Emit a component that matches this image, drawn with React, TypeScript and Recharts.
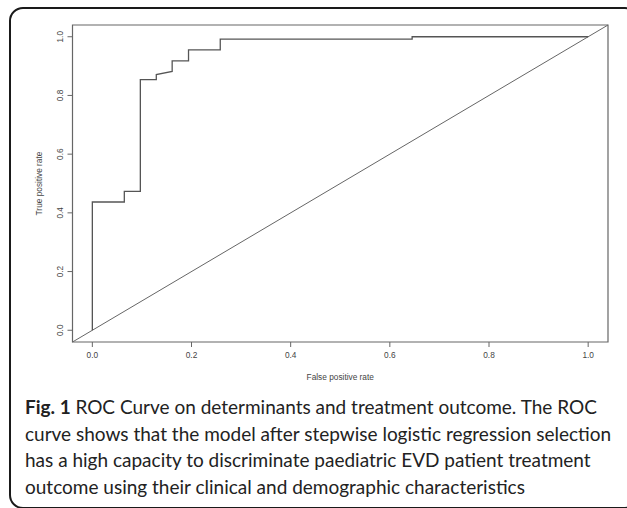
import React from 'react';
import { LineChart, Line, XAxis, YAxis, ReferenceArea, ReferenceLine } from 'recharts';

// ROC curve points (false positive rate, true positive rate)
const fprValues = [0, 0, 0.0645, 0.0645, 0.0968, 0.0968, 0.129, 0.129, 0.161, 0.161, 0.194, 0.194, 0.258, 0.258, 0.645, 0.645, 1.0];
const tprValues = [0, 0.437, 0.437, 0.473, 0.473, 0.854, 0.854, 0.871, 0.882, 0.918, 0.918, 0.955, 0.955, 0.992, 0.992, 1.0, 1.0];

const xTicks = [0, 0.2, 0.4, 0.6, 0.8, 1.0];
const yTicks = [0, 0.2, 0.4, 0.6, 0.8, 1.0];
const axisDomain = [-0.04, 1.04];

const captionLines = [
  'ROC Curve on determinants and treatment outcome. The ROC',
  'curve shows that the model after stepwise logistic regression selection',
  'has a high capacity to discriminate paediatric EVD patient treatment',
  'outcome using their clinical and demographic characteristics',
];

const rocData = fprValues.map((fpr, i) => ({ fpr, tpr: tprValues[i] }));

const AXIS_FONT = '"Liberation Sans", Arial, sans-serif';
const AXIS_SIZE = 8.3;
const AXIS_COLOR = '#444';

const XTick = ({ x, y, payload }: any) => (
  <text x={x} y={y} dy={9} textAnchor="middle" fontSize={AXIS_SIZE} fontFamily={AXIS_FONT} fill={AXIS_COLOR}>
    {Number(payload.value).toFixed(1)}
  </text>
);

const YTick = ({ x, y, payload }: any) => (
  <text
    transform={`translate(${x - 3},${y}) rotate(-90)`}
    textAnchor="middle"
    fontSize={AXIS_SIZE}
    fontFamily={AXIS_FONT}
    fill={AXIS_COLOR}
  >
    {Number(payload.value).toFixed(1)}
  </text>
);

export default function App() {
  return (
    <div style={{ position: 'absolute', left: 0, top: 0, width: 627, height: 508, overflow: 'hidden', background: '#fff' }}>
      <div
        style={{
          position: 'absolute',
          left: 9,
          top: 7,
          width: 626,
          height: 498,
          border: '2px solid #1a1a1a',
          borderRadius: 14,
        }}
      />
      <div style={{ position: 'absolute', left: 0, top: 0 }}>
        <LineChart width={627} height={400} margin={{ top: 25, right: 19, left: 0, bottom: 0 }}>
          <XAxis
            type="number"
            dataKey="fpr"
            domain={axisDomain}
            allowDataOverflow
            ticks={xTicks}
            tick={<XTick />}
            tickSize={5}
            tickLine={{ stroke: '#666' }}
            axisLine={false}
            height={58}
            label={{
              value: 'False positive rate',
              content: ({ viewBox }: any) => (
                <text
                  x={viewBox.x + viewBox.width / 2}
                  y={viewBox.y + 38}
                  textAnchor="middle"
                  fontSize={AXIS_SIZE}
                  fontFamily={AXIS_FONT}
                  fill={AXIS_COLOR}
                >
                  False positive rate
                </text>
              ),
            }}
          />
          <YAxis
            type="number"
            dataKey="tpr"
            domain={axisDomain}
            allowDataOverflow
            ticks={yTicks}
            tick={<YTick />}
            tickSize={5}
            tickLine={{ stroke: '#666' }}
            axisLine={false}
            width={72.5}
            label={{
              value: 'True positive rate',
              content: ({ viewBox }: any) => (
                <text
                  transform={`translate(${viewBox.x + 42},${viewBox.y + viewBox.height / 2}) rotate(-90)`}
                  textAnchor="middle"
                  fontSize={AXIS_SIZE}
                  fontFamily={AXIS_FONT}
                  fill={AXIS_COLOR}
                >
                  True positive rate
                </text>
              ),
            }}
          />
          <ReferenceArea x1={-0.04} x2={1.04} y1={-0.04} y2={1.04} fill="none" stroke="#666" strokeWidth={1.2} ifOverflow="visible" />
          <ReferenceLine
            segment={[{ x: -0.04, y: -0.04 }, { x: 1.04, y: 1.04 }]}
            stroke="#666"
            strokeWidth={1}
            ifOverflow="visible"
          />
          <Line
            data={rocData}
            dataKey="tpr"
            type="linear"
            stroke="#555"
            strokeWidth={1.3}
            dot={false}
            isAnimationActive={false}
          />
        </LineChart>
      </div>
      <div
        style={{
          position: 'absolute',
          left: 25,
          top: 394,
          fontFamily: 'Lato, "Open Sans", sans-serif',
          fontSize: 19,
          lineHeight: '26.7px',
          color: '#222',
          whiteSpace: 'nowrap',
        }}
      >
        {captionLines.map((line, i) => (
          <div key={i}>
            {i === 0 && <b>Fig. 1 </b>}
            {line}
          </div>
        ))}
      </div>
    </div>
  );
}
